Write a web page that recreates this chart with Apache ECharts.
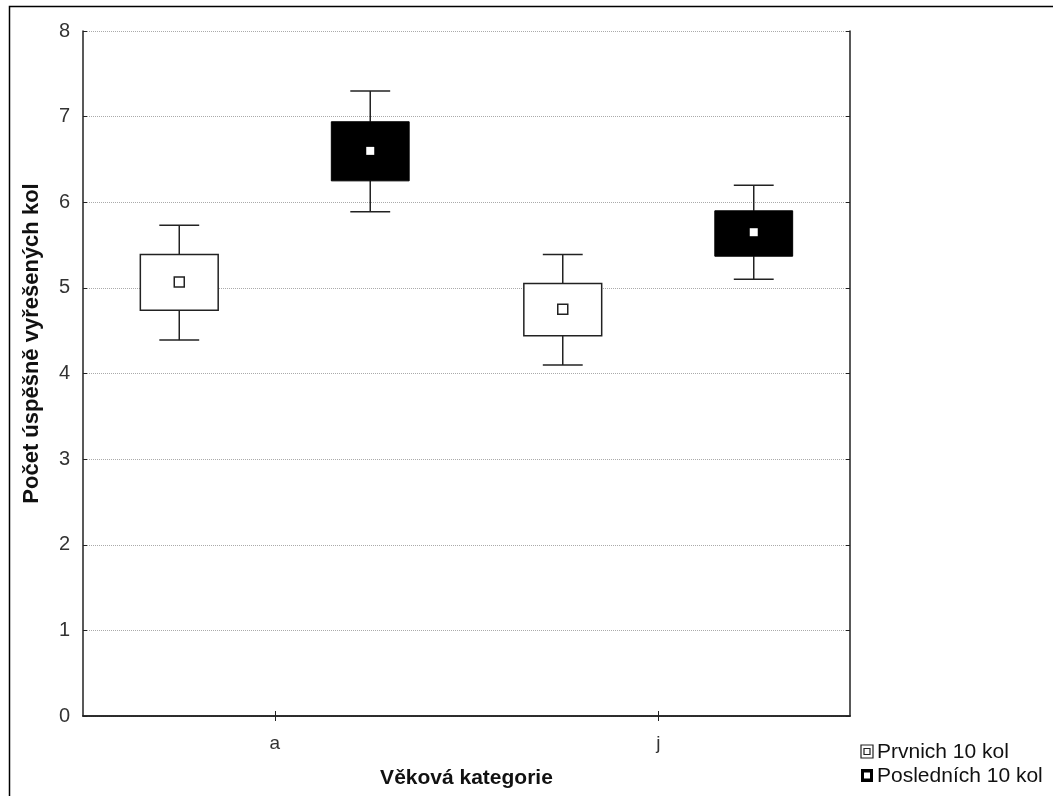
<!DOCTYPE html>
<html>
<head>
<meta charset="utf-8">
<script src="https://cdn.jsdelivr.net/npm/echarts@6/dist/echarts.min.js"></script>
<style>
html,body{margin:0;padding:0;background:#fff;}
#chart{width:1053px;height:796px;}
</style>
</head>
<body>
<div id="chart"></div>
<script>
const categories = ['a', 'j'];
const seriesNames = ['Prvnich 10 kol', 'Posledních 10 kol'];

// Prvních 10 kol
const firstWhiskLow  = [4.39, 4.10];
const firstBoxLow    = [4.74, 4.44];
const firstMean      = [5.07, 4.75];
const firstBoxHigh   = [5.39, 5.05];
const firstWhiskHigh = [5.73, 5.39];

// Posledních 10 kol
const lastWhiskLow  = [5.89, 5.10];
const lastBoxLow    = [6.25, 5.37];
const lastMean      = [6.60, 5.65];
const lastBoxHigh   = [6.94, 5.90];
const lastWhiskHigh = [7.30, 6.20];

function rows(wl, bl, m, bh, wh) {
  return categories.map((c, i) => [i, wl[i], bl[i], m[i], bh[i], wh[i]]);
}

function makeRender(offsetFrac, filled) {
  return function (params, api) {
    const ci = api.value(0);
    const band = api.size([1, 0])[0];
    const cx = api.coord([ci, 0])[0] + offsetFrac * band;
    const yWL = api.coord([ci, api.value(1)])[1];
    const yBL = api.coord([ci, api.value(2)])[1];
    const yM  = api.coord([ci, api.value(3)])[1];
    const yBH = api.coord([ci, api.value(4)])[1];
    const yWH = api.coord([ci, api.value(5)])[1];
    const bw = band * 0.203;
    const cw = band * 0.104;
    const lineStyle = { stroke: '#222', lineWidth: 1.5 };
    const children = [
      { type: 'line', shape: { x1: cx, y1: yWH, x2: cx, y2: yBH }, style: lineStyle },
      { type: 'line', shape: { x1: cx, y1: yBL, x2: cx, y2: yWL }, style: lineStyle },
      { type: 'line', shape: { x1: cx - cw / 2, y1: yWH, x2: cx + cw / 2, y2: yWH }, style: lineStyle },
      { type: 'line', shape: { x1: cx - cw / 2, y1: yWL, x2: cx + cw / 2, y2: yWL }, style: lineStyle },
      { type: 'rect', shape: { x: cx - bw / 2, y: yBH, width: bw, height: yBL - yBH },
        style: filled ? { fill: '#000', stroke: '#000', lineWidth: 1 } : { fill: '#fff', stroke: '#222', lineWidth: 1.5 } },
    ];
    if (filled) {
      children.push({ type: 'rect', shape: { x: cx - 4, y: yM - 4, width: 8, height: 8 }, style: { fill: '#fff' } });
    } else {
      children.push({ type: 'rect', shape: { x: cx - 5, y: yM - 5, width: 10, height: 10 }, style: { fill: '#fff', stroke: '#222', lineWidth: 1.5 } });
    }
    return { type: 'group', children: children };
  };
}

const chart = echarts.init(document.getElementById('chart'));
const FF = 'Liberation Sans, Arial, sans-serif';

chart.setOption({
  backgroundColor: '#fff',
  animation: false,
  grid: { left: 83, right: 203, top: 31, bottom: 80, containLabel: false, outerBoundsMode: 'none' },
  xAxis: [
    {
      type: 'category', data: categories, boundaryGap: true,
      name: 'Věková kategorie', nameLocation: 'middle', nameGap: 52,
      nameTextStyle: { fontSize: 21, fontWeight: 'bold', color: '#111', fontFamily: FF },
      axisLine: { lineStyle: { color: '#222', width: 1.5 } },
      axisTick: { show: true, inside: true, alignWithLabel: true, length: 5, lineStyle: { color: '#222' } },
      axisLabel: { fontSize: 19, color: '#333', margin: 18, fontFamily: FF },
      splitLine: { show: false }
    },
    {
      type: 'category', data: categories, boundaryGap: true, position: 'top',
      axisLine: { lineStyle: { color: '#222', width: 1.5 } },
      axisTick: { show: true, inside: true, alignWithLabel: true, length: 5, lineStyle: { color: '#222' } },
      axisLabel: { show: false },
      splitLine: { show: false }
    }
  ],
  yAxis: [
    {
      type: 'value', min: 0, max: 8, interval: 1,
      name: 'Počet úspěšně vyřešených kol', nameLocation: 'middle', nameGap: 40,
      nameTextStyle: { fontSize: 22, fontWeight: 'bold', color: '#111', fontFamily: FF, padding: [0, 0, 0, 60] },
      axisLine: { show: true, lineStyle: { color: '#222', width: 1.5 } },
      axisTick: { show: true, inside: true, length: 4, lineStyle: { color: '#222' } },
      axisLabel: { fontSize: 20, color: '#333', margin: 13, fontFamily: FF },
      splitLine: { show: true, lineStyle: { color: '#aaa', type: 'dotted', width: 1 } }
    },
    {
      type: 'value', min: 0, max: 8, interval: 1, position: 'right',
      axisLine: { show: true, lineStyle: { color: '#222', width: 1.5 } },
      axisTick: { show: true, inside: true, length: 4, lineStyle: { color: '#222' } },
      axisLabel: { show: false },
      splitLine: { show: false }
    }
  ],
  series: [
    {
      name: seriesNames[0], type: 'custom',
      renderItem: makeRender(-0.249, false),
      encode: { x: 0, y: [1, 2, 3, 4, 5] },
      data: rows(firstWhiskLow, firstBoxLow, firstMean, firstBoxHigh, firstWhiskHigh),
      z: 5
    },
    {
      name: seriesNames[1], type: 'custom',
      renderItem: makeRender(0.249, true),
      encode: { x: 0, y: [1, 2, 3, 4, 5] },
      data: rows(lastWhiskLow, lastBoxLow, lastMean, lastBoxHigh, lastWhiskHigh),
      z: 5
    }
  ],
  graphic: [
    { type: 'rect', shape: { x: 9.5, y: 6.5, width: 1100, height: 900 }, style: { fill: 'none', stroke: '#000', lineWidth: 1.5 }, silent: true },
    // legend entry 1
    { type: 'rect', shape: { x: 861, y: 745, width: 12, height: 13 }, style: { fill: '#fff', stroke: '#222', lineWidth: 1.2 } },
    { type: 'rect', shape: { x: 864, y: 748.5, width: 6, height: 6 }, style: { fill: '#fff', stroke: '#222', lineWidth: 1.2 } },
    { type: 'text', x: 877, y: 752, style: { text: seriesNames[0], fontSize: 21, fill: '#111', fontFamily: FF, verticalAlign: 'middle' } },
    // legend entry 2
    { type: 'rect', shape: { x: 861, y: 769, width: 12, height: 13 }, style: { fill: '#000' } },
    { type: 'rect', shape: { x: 864, y: 772.5, width: 6, height: 6 }, style: { fill: '#fff' } },
    { type: 'text', x: 877, y: 776, style: { text: seriesNames[1], fontSize: 21, fill: '#111', fontFamily: FF, verticalAlign: 'middle' } }
  ]
});
</script>
</body>
</html>
